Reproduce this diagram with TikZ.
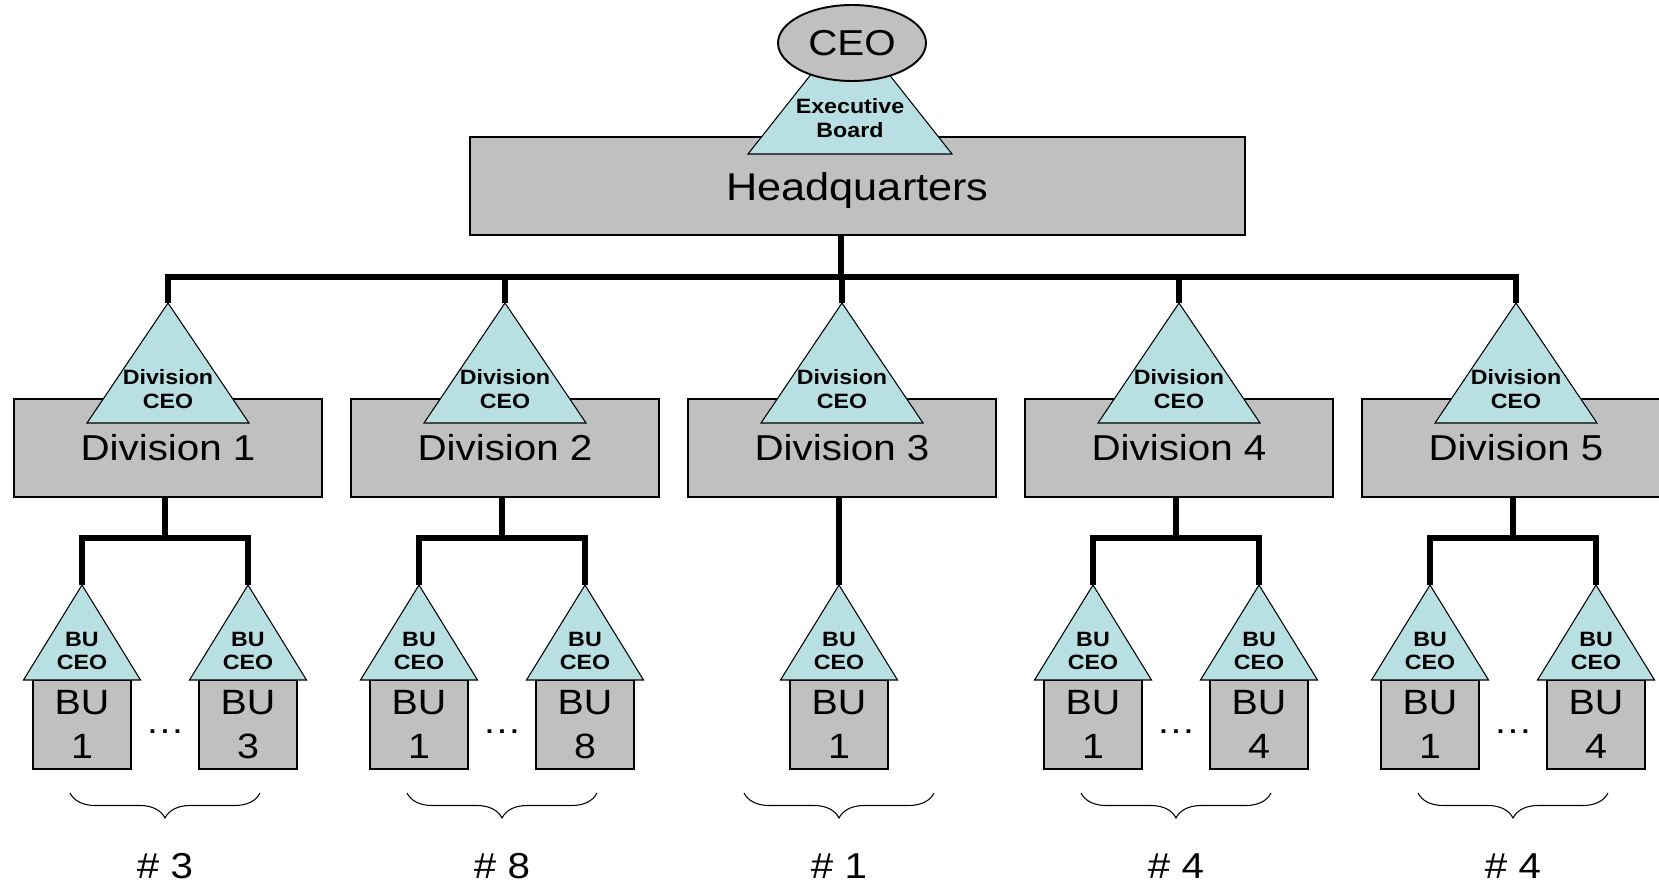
\documentclass[tikz,border=0pt]{standalone}
\usepackage{fontspec}
\setmainfont{Liberation Sans}[FakeStretch=1.12]
\usetikzlibrary{positioning,calc,shapes.geometric,decorations.pathreplacing}
\definecolor{boxgray}{HTML}{C0C0C0}
\definecolor{ceocyan}{HTML}{B8E0E3}

\tikzset{
  unitbox/.style={draw=black,line width=1.2pt,fill=boxgray,inner sep=0pt},
  ceotri/.style={draw=black,line width=0.6pt,fill=ceocyan},
  ceolabel/.style={font=\bfseries\fontsize{11.8}{13.5}\selectfont,align=center,inner sep=0pt},
  link/.style={line width=2.9pt},
  bubox/.style={unitbox,minimum width=1.96cm,minimum height=1.78cm,align=center,
    font=\fontsize{20}{25.5}\selectfont},
  countbrace/.style={decorate,decoration={brace,amplitude=0.5cm,mirror},line width=0.6pt},
}

% one business unit: name, x, number
\newcommand{\buhouse}[3]{%
  \node[bubox] (#1) at (#2,724.5) {BU\\#3};
  \coordinate (#1-top) at (#2,585);
  \draw[ceotri] (#1-top) -- ++(58.5,95) -- ++(-117,0) -- cycle;
  \node[ceolabel] (#1-ceo) at (#2,651) {BU\\CEO};
}

\begin{document}
\begin{tikzpicture}[x=0.02cm,y=-0.02cm]
\useasboundingbox (0,0) rectangle (1659,885);

% headquarters and executive board
\node[unitbox,minimum width=15.5cm,minimum height=1.96cm,text depth=0pt,font=\fontsize{22}{26}\selectfont]
  (hq) at (857.5,186) {Headquarters};
\draw[ceotri] (850,25) -- (952,154) -- (748,154) -- cycle;
\node[ceolabel] (board) at (850,118) {Executive\\Board};
\node[ellipse,draw=black,line width=1.1pt,fill=boxgray,minimum width=2.96cm,minimum height=1.52cm,
  inner sep=0pt,font=\fontsize{20.5}{24}\selectfont] (ceo) at (852,43) {CEO};

\coordinate (hqout) at (841,235);
\coordinate (bar) at (841,277);
\draw[link] (hqout) -- (bar);

% divisions
\foreach \i/\n in {1/3,2/8,3/1,4/4,5/4}{
  \pgfmathsetmacro{\cx}{168+337*(\i-1)}
  \pgfmathsetmacro{\mx}{\cx-3}
  \node[unitbox,minimum width=6.16cm,minimum height=1.96cm,font=\fontsize{20.5}{24}\selectfont]
    (div\i) at (\cx,448) {Division \i};
  \coordinate (div\i-top) at (\cx,303);
  \draw[ceotri] (div\i-top) -- ++(81,120) -- ++(-162,0) -- cycle;
  \node[ceolabel] (div\i-ceo) at (\cx,389) {Division\\CEO};
  \draw[link] (div\i-top) -- (div\i-top |- bar);
  \coordinate (bubar\i) at (\mx,538);
  \ifnum\n=1
    \buhouse{bu\i-1}{\mx}{1}
    \draw[link] (div\i.south -| bu\i-1-top) -- (bu\i-1-top);
  \else
    \buhouse{bu\i-1}{\mx-83}{1}
    \buhouse{bu\i-n}{\mx+83}{\n}
    \node[font=\fontsize{20}{24}\selectfont,anchor=base] (dots\i) at (\mx,733) {…};
    \draw[link] (div\i.south -| bubar\i) -- (bubar\i);
    \draw[link] (bu\i-1-top) -- (bu\i-1-top |- bubar\i) -- (bu\i-n-top |- bubar\i) -- (bu\i-n-top);
  \fi
  % number of business units
  \coordinate (bl\i) at (\mx-95,793);
  \coordinate (br\i) at (\mx+95,793);
  \draw[countbrace] (bl\i) -- (br\i);
  \node[font=\fontsize{20.5}{24}\selectfont] (count\i) at (\mx,866) {\# \n};
}
\draw[link,line cap=rect] (div1-top |- bar) -- (div5-top |- bar);
\end{tikzpicture}
\end{document}
